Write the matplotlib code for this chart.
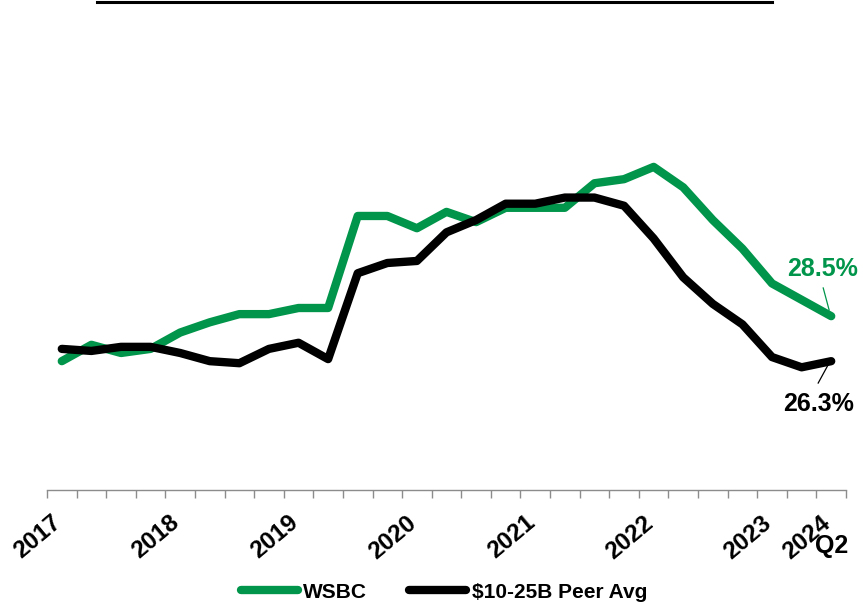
import matplotlib
matplotlib.use("Agg")
import matplotlib.pyplot as plt
from matplotlib.lines import Line2D
from matplotlib.transforms import ScaledTranslation

plt.rcParams['font.family'] = ['Liberation Sans', 'DejaVu Sans']

# Quarterly ratio (%), Q4 2017 through Q2 2024
quarters = ['Q4 2017', 'Q1 2018', 'Q2 2018', 'Q3 2018', 'Q4 2018',
            'Q1 2019', 'Q2 2019', 'Q3 2019', 'Q4 2019',
            'Q1 2020', 'Q2 2020', 'Q3 2020', 'Q4 2020',
            'Q1 2021', 'Q2 2021', 'Q3 2021', 'Q4 2021',
            'Q1 2022', 'Q2 2022', 'Q3 2022', 'Q4 2022',
            'Q1 2023', 'Q2 2023', 'Q3 2023', 'Q4 2023',
            'Q1 2024', 'Q2 2024']
wsbc = [26.3, 27.1, 26.7, 26.9, 27.7, 28.2, 28.6, 28.6, 28.9, 28.9,
        33.4, 33.4, 32.8, 33.6, 33.1, 33.8, 33.8, 33.8, 35.0, 35.2,
        35.8, 34.8, 33.2, 31.8, 30.1, 29.3, 28.5]
peer = [26.9, 26.8, 27.0, 27.0, 26.7, 26.3, 26.2, 26.9, 27.2, 26.4,
        30.6, 31.1, 31.2, 32.6, 33.2, 34.0, 34.0, 34.3, 34.3, 33.9,
        32.3, 30.4, 29.1, 28.1, 26.5, 26.0, 26.3]
year_labels = ['2017', '2018', '2019', '2020', '2021', '2022', '2023', '2024']
year_label_pos = [0, 4, 8, 12, 16, 20, 24, 26]

green = '#00954A'
n = len(quarters)
x = list(range(n))

fig = plt.figure(figsize=(8.63, 6.03), dpi=100)
ax = fig.add_axes([47 / 863, 1 - 490 / 603, 799 / 863, 409 / 603])

ax.plot(x, wsbc, color=green, lw=6, solid_capstyle='round',
        solid_joinstyle='round', label='WSBC', zorder=3)
ax.plot(x, peer, color='black', lw=6, solid_capstyle='round',
        solid_joinstyle='round', label='$10-25B Peer Avg', zorder=4)

ax.set_xlim(-0.5, n - 0.5)
ax.set_ylim(20, 40)

for side in ['top', 'right', 'left']:
    ax.spines[side].set_visible(False)
ax.spines['bottom'].set_color('#8c8c8c')
ax.spines['bottom'].set_linewidth(1.0)
ax.set_yticks([])

# tick marks sit between categories; labels sit on the categories
ax.set_xticks([i - 0.5 for i in range(n + 1)], minor=True)
ax.tick_params(axis='x', which='minor', length=6, width=1.0,
               color='#8c8c8c', direction='out')
ax.set_xticks(year_label_pos)
ax.set_xticklabels(year_labels, rotation=40, ha='right', va='center',
                   rotation_mode='anchor', fontsize=17.5, fontweight='bold')
ax.tick_params(axis='x', which='major', length=0, pad=21.5)
shift = ScaledTranslation(-2.5 / 72, 0, fig.dpi_scale_trans)
for lbl in ax.get_xticklabels():
    lbl.set_transform(lbl.get_transform() + shift)

# quarter marker under the final year label
q2_offset = ScaledTranslation(0, -56 / 100, fig.dpi_scale_trans)
ax.text(n - 1, 20, 'Q2', transform=ax.transData + q2_offset, fontsize=18,
        fontweight='bold', ha='center', va='center')

# end-point callouts with thin leader lines
last = n - 1
ax.text(last - 0.29, wsbc[-1] + 2.31, f'{wsbc[-1]:.1f}%', color=green,
        fontsize=18, fontweight='bold', ha='center', va='center')
ax.plot([last - 0.27, last - 0.07], [wsbc[-1] + 1.38, wsbc[-1] + 0.3],
        color=green, lw=0.9, zorder=2)
ax.text(last - 0.44, peer[-1] - 2.1, f'{peer[-1]:.1f}%', color='black',
        fontsize=18, fontweight='bold', ha='center', va='center')
ax.plot([last - 0.44, last - 0.07], [peer[-1] - 1.07, peer[-1] - 0.09],
        color='black', lw=0.9, zorder=2)

# rule across the top
fig.add_artist(Line2D([97 / 863, 772 / 863], [1 - 1.5 / 603, 1 - 1.5 / 603],
                      color='black', lw=2.2, transform=fig.transFigure))

fig.legend(loc='center', bbox_to_anchor=(444 / 863, 1 - 592 / 603), ncol=2,
           frameon=False, prop={'size': 15, 'weight': 'bold'},
           handlelength=2.75, handletextpad=0.25, columnspacing=2.0,
           borderaxespad=0)

fig.savefig('out.png', dpi=100)
